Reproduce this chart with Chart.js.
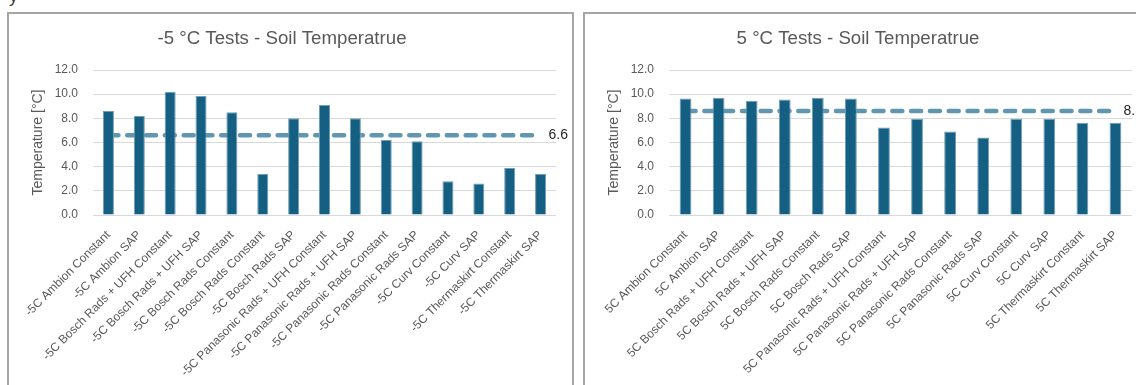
<!DOCTYPE html>
<html><head><meta charset="utf-8">
<script src="https://cdn.jsdelivr.net/npm/chart.js@4.4.1/dist/chart.umd.min.js"></script>
<style>
html,body{margin:0;padding:0;background:#fff;overflow:hidden;width:1136px;height:385px;}
.box{position:absolute;top:12px;height:400px;border:2px solid #a6a6a6;box-sizing:border-box;}
#b1{left:7px;width:567px;}
#b2{left:583px;width:567px;}
.cw{position:absolute;top:14px;width:564px;height:371px;}
#c1w{left:8px;} #c2w{left:584px;}
#frag{position:absolute;left:9px;top:-14px;font:18px "Liberation Sans",sans-serif;color:#404040;}
</style></head>
<body>
<div id="frag">y</div>
<div class="box" id="b1"></div><div class="box" id="b2"></div>
<div class="cw" id="c1w"><canvas id="c1" width="564" height="371"></canvas></div>
<div class="cw" id="c2w"><canvas id="c2" width="564" height="371"></canvas></div>
<script>
const titleMinus5 = '-5 °C Tests - Soil Temperatrue';
const titlePlus5 = '5 °C Tests - Soil Temperatrue';
const yAxisTitle = 'Temperature [°C]';
const yTicks = [0, 2, 4, 6, 8, 10, 12];

const labelsMinus5 = ['-5C Ambion Constant', '-5C Ambion SAP', '-5C Bosch Rads + UFH Constant', '-5C Bosch Rads + UFH SAP',
  '-5C Bosch Rads Constant', '-5C Bosch Rads Constant', '-5C Bosch Rads SAP', '-5C Panasonic Rads + UFH Constant',
  '-5C Panasonic Rads + UFH SAP', '-5C Panasonic Rads Constant', '-5C Panasonic Rads SAP', '-5C Curv Constant',
  '-5C Curv SAP', '-5C Thermaskirt Constant', '-5C Thermaskirt SAP'];
const valuesMinus5 = [8.6, 8.2, 10.2, 9.85, 8.5, 3.4, 8.0, 9.1, 8.0, 6.2, 6.1, 2.8, 2.6, 3.9, 3.4];
const avgMinus5 = [6.6, 6.6, 6.6, 6.6, 6.6, 6.6, 6.6, 6.6, 6.6, 6.6, 6.6, 6.6, 6.6, 6.6, 6.6];

const labelsPlus5 = ['5C Ambion Constant', '5C Ambion SAP', '5C Bosch Rads + UFH Constant', '5C Bosch Rads + UFH SAP',
  '5C Bosch Rads Constant', '5C Bosch Rads SAP', '5C Panasonic Rads + UFH Constant', '5C Panasonic Rads + UFH SAP',
  '5C Panasonic Rads Constant', '5C Panasonic Rads SAP', '5C Curv Constant', '5C Curv SAP',
  '5C Thermaskirt Constant', '5C Thermaskirt SAP'];
const valuesPlus5 = [9.65, 9.7, 9.45, 9.55, 9.7, 9.65, 7.25, 7.97, 6.92, 6.42, 7.97, 7.97, 7.63, 7.63];
const avgPlus5 = [8.6, 8.6, 8.6, 8.6, 8.6, 8.6, 8.6, 8.6, 8.6, 8.6, 8.6, 8.6, 8.6, 8.6];

const FONT = '"Liberation Sans", Arial, sans-serif';
const GREY = '#595959';
const BAR = '#156082';
const AVG = '#6096ae';

const endLabel = {
  id: 'endLabel',
  afterDatasetsDraw(chart) {
    const meta = chart.getDatasetMeta(1);
    const pts = meta.data;
    const pt = pts[pts.length - 1];
    const ds = chart.data.datasets[1].data;
    const ctx = chart.ctx;
    ctx.save();
    ctx.font = '14px ' + FONT;
    ctx.fillStyle = '#262626';
    ctx.textBaseline = 'middle';
    ctx.textAlign = 'left';
    ctx.fillText(ds[ds.length - 1].toFixed(1), pt.x + 8, pt.y);
    ctx.restore();
  }
};

function makeChart(id, title, labels, values, avg) {
  return new Chart(document.getElementById(id), {
    data: {
      labels: labels,
      datasets: [
        { type: 'bar', data: values, backgroundColor: BAR, borderColor: '#6f9db5', borderWidth: 1,
          categoryPercentage: 1, barPercentage: 0.357, order: 1 },
        { type: 'line', data: avg, borderColor: AVG, borderWidth: 4.5, borderDash: [10, 8.8],
          borderCapStyle: 'round', pointRadius: 0, fill: false, tension: 0, order: 2 }
      ]
    },
    options: {
      responsive: false,
      animation: false,
      layout: { padding: { left: 0, right: 16, top: 0, bottom: 0 } },
      plugins: {
        legend: { display: false },
        tooltip: { enabled: false },
        title: { display: true, text: title, color: GREY,
          font: { family: FONT, size: 18.67, weight: 'normal', lineHeight: 1.2 },
          padding: { top: 13.8, bottom: 19.8 } }
      },
      scales: {
        x: {
          grid: { display: false },
          border: { display: false },
          ticks: { autoSkip: false, maxRotation: 45, minRotation: 45, color: GREY, padding: 5,
            font: { family: FONT, size: 12 } },
          afterFit(s) { s.height = 170; }
        },
        y: {
          min: 0, max: 12,
          grid: { color: '#d9d9d9', lineWidth: 1, drawTicks: false },
          border: { display: false },
          afterBuildTicks(s) { s.ticks = yTicks.map(v => ({ value: v })); },
          ticks: { color: GREY, padding: 15, font: { family: FONT, size: 12 },
            callback: v => Number(v).toFixed(1) },
          title: { display: true, text: yAxisTitle, color: GREY,
            font: { family: FONT, size: 14, weight: 'normal', lineHeight: 1.2 },
            padding: { top: 22, bottom: 0 } },
          afterFit(s) { s.width = 85; }
        }
      }
    },
    plugins: [endLabel]
  });
}

makeChart('c1', titleMinus5, labelsMinus5, valuesMinus5, avgMinus5);
makeChart('c2', titlePlus5, labelsPlus5, valuesPlus5, avgPlus5);
</script>
</body></html>
